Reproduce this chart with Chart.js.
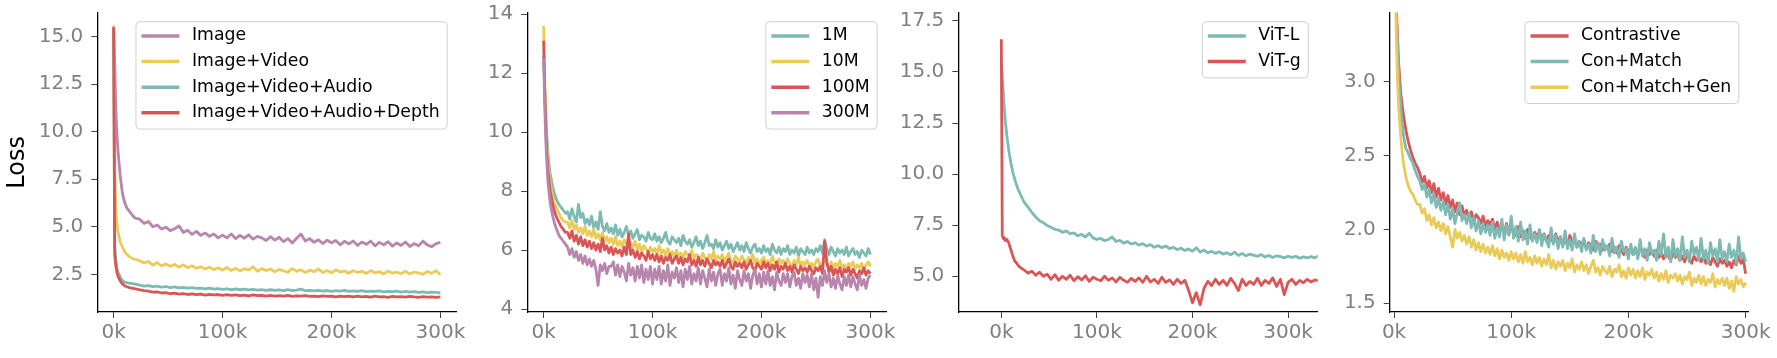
<!DOCTYPE html>
<html><head><meta charset="utf-8">
<script src="https://cdn.jsdelivr.net/npm/chart.js@4.4.1/dist/chart.umd.min.js"></script>
<style>
html,body{margin:0;padding:0;background:#fff;width:1777px;height:358px;overflow:hidden;}
canvas{position:absolute;left:0;top:0;}
</style></head><body>
<canvas id="c1" width="1777" height="358"></canvas>
<canvas id="c2" width="1777" height="358"></canvas>
<canvas id="c3" width="1777" height="358"></canvas>
<canvas id="c4" width="1777" height="358"></canvas>
<script>
// ---------- data (training steps in thousands) ----------
const stepsK = [0,1,2,3,4,6,8,10,12,14,16,18,20,
24,28,32,36,40,44,48,52,56,60,
64,68,72,76,80,84,88,92,96,100,
104,108,112,116,120,124,128,132,136,140,
144,148,152,156,160,164,168,172,176,180,
184,188,192,196,200,204,208,212,216,220,
224,228,232,236,240,244,248,252,256,260,
264,268,272,276,280,284,288,292,296,300];
const stepsK3 = stepsK.concat([304,308,312,316,320,324,328,332]);
const stepsDense = [0,1,2,3,4,6,8,10,12,14,16,18,20,
22,24,26,28,30,32,34,36,38,40,
42,44,46,48,50,52,54,56,58,60,
62,64,66,68,70,72,74,76,78,80,
82,84,86,88,90,92,94,96,98,100,
102,104,106,108,110,112,114,116,118,120,
122,124,126,128,130,132,134,136,138,140,
142,144,146,148,150,152,154,156,158,160,
162,164,166,168,170,172,174,176,178,180,
182,184,186,188,190,192,194,196,198,200,
202,204,206,208,210,212,214,216,218,220,
222,224,226,228,230,232,234,236,238,240,
242,244,246,248,250,252,254,256,258,260,
262,264,266,268,270,272,274,276,278,280,
282,284,286,288,290,292,294,296,298,300];

const xTicks = [0,100,200,300];

// Panel 1: modalities
const p1Names = ['Image','Image+Video','Image+Video+Audio','Image+Video+Audio+Depth'];
const p1Image = [15.5,13.5,11.2,9.9,9.0,7.7,6.8,6.3,6.0,5.85,5.7,5.55,5.45,
5.40,5.18,5.28,5.00,5.10,4.88,4.98,4.80,4.90,5.05,
4.70,4.82,4.60,4.76,4.55,4.68,4.50,4.62,4.42,4.56,
4.42,4.62,4.38,4.55,4.40,4.58,4.35,4.50,4.42,4.28,
4.48,4.30,4.45,4.22,4.38,4.15,4.40,4.62,4.25,4.38,
4.18,4.32,4.12,4.30,4.16,4.28,4.05,4.24,4.10,4.26,
4.02,4.20,4.08,4.25,4.00,4.18,4.05,4.22,3.98,4.15,
4.02,4.20,3.96,4.12,4.00,4.25,4.05,3.95,4.12,4.18];
const p1Video = [15.6,8.0,6.0,5.2,4.75,4.2,3.95,3.7,3.55,3.45,3.38,3.32,3.28,
3.22,3.10,3.18,2.98,3.12,2.95,3.05,2.92,3.02,2.88,
3.00,2.85,2.95,2.82,2.90,2.78,2.88,2.75,2.85,2.72,
2.86,2.70,2.82,2.68,2.80,2.72,2.90,2.66,2.80,2.70,
2.78,2.64,2.76,2.68,2.62,2.80,2.66,2.74,2.60,2.72,
2.64,2.78,2.60,2.70,2.58,2.74,2.62,2.68,2.56,2.70,
2.60,2.66,2.55,2.70,2.58,2.64,2.52,2.68,2.56,2.62,
2.54,2.66,2.52,2.62,2.58,2.50,2.66,2.55,2.70,2.48];
const p1Audio = [15.5,4.0,3.3,2.85,2.6,2.35,2.18,2.1,2.06,2.04,2.02,2.0,1.98,
1.93,1.88,1.91,1.85,1.88,1.83,1.86,1.80,1.84,1.79,
1.82,1.77,1.80,1.76,1.78,1.73,1.77,1.72,1.75,1.71,
1.74,1.70,1.73,1.69,1.72,1.68,1.71,1.67,1.70,1.66,
1.69,1.66,1.68,1.64,1.70,1.65,1.67,1.72,1.64,1.66,
1.63,1.66,1.62,1.65,1.61,1.64,1.62,1.66,1.60,1.63,
1.61,1.64,1.59,1.62,1.60,1.63,1.58,1.61,1.59,1.62,
1.57,1.60,1.56,1.59,1.55,1.58,1.54,1.57,1.55,1.53];
const p1Depth = [15.5,3.5,2.95,2.6,2.4,2.15,2.0,1.9,1.85,1.81,1.78,1.76,1.74,
1.69,1.64,1.62,1.57,1.58,1.52,1.54,1.48,1.51,1.46,
1.49,1.44,1.47,1.43,1.46,1.41,1.45,1.42,1.44,1.40,
1.43,1.39,1.42,1.38,1.41,1.37,1.42,1.38,1.40,1.36,
1.39,1.36,1.38,1.35,1.39,1.34,1.37,1.35,1.38,1.34,
1.36,1.33,1.37,1.34,1.36,1.32,1.35,1.33,1.36,1.31,
1.35,1.32,1.34,1.30,1.35,1.32,1.33,1.29,1.34,1.31,
1.33,1.30,1.34,1.31,1.29,1.33,1.30,1.32,1.29,1.31];
const p1YTicks = [2.5,5,7.5,10,12.5,15];

// Panel 2: data size (dense steps)
const p2Names = ['1M','10M','100M','300M'];
const p2M1 = [12.6,11.5,10.6,9.8,9.2,8.6,8.2,7.9,7.7,7.55,7.45,7.35,7.25,
7.30,7.05,7.40,7.15,6.95,7.55,7.10,7.25,6.90,7.05,
6.85,7.15,6.75,6.95,6.70,7.30,6.80,6.65,6.90,6.60,
6.75,6.55,6.85,6.50,6.70,6.45,6.60,6.80,6.50,6.65,
6.40,6.55,6.70,6.35,6.50,6.45,6.30,6.60,6.40,6.35,
6.55,6.30,6.45,6.25,6.40,6.60,6.30,6.20,6.45,6.35,
6.25,6.40,6.15,6.50,6.30,6.20,6.35,6.10,6.25,6.45,
6.15,6.30,6.05,6.25,6.50,6.15,6.20,6.05,6.35,6.10,
6.25,6.00,6.15,6.30,6.05,6.20,5.95,6.10,6.25,6.00,
6.15,5.95,6.25,6.05,5.90,6.10,6.20,5.95,6.05,5.90,
6.15,5.95,6.05,5.85,6.20,6.00,5.90,6.10,5.85,6.05,
5.95,6.15,5.85,6.00,5.90,6.10,5.80,6.05,5.95,5.85,
6.10,5.90,6.00,5.85,6.05,5.95,6.15,5.90,6.35,6.05,
5.85,6.10,5.95,5.80,6.05,5.90,6.00,5.85,6.10,5.80,
5.95,6.05,5.85,5.95,5.75,6.00,5.90,5.80,6.05,5.85];
const p2M10 = [13.6,11.8,10.5,9.6,9.0,8.3,7.9,7.6,7.4,7.25,7.1,7.0,6.95,
6.95,6.75,7.00,6.70,6.85,6.60,6.75,6.55,6.80,6.50,
6.65,6.45,6.70,6.40,6.55,6.35,6.60,6.30,6.45,6.25,
6.40,6.20,6.45,6.15,6.30,6.10,6.35,6.20,6.05,6.25,
6.10,6.30,6.00,6.20,5.95,6.15,6.05,5.90,6.10,5.95,
6.05,5.85,6.15,5.90,6.00,5.80,6.05,5.85,5.95,5.75,
6.00,5.80,5.90,5.70,5.95,5.85,5.75,6.00,5.70,5.85,
5.80,5.65,5.90,5.75,5.60,5.85,5.70,5.95,5.65,5.80,
5.70,5.85,5.60,5.75,5.90,5.65,5.55,5.80,5.70,5.60,
5.80,5.65,5.55,5.75,5.60,5.85,5.55,5.70,5.50,5.65,
5.75,5.55,5.65,5.50,5.80,5.60,5.45,5.70,5.55,5.65,
5.50,5.70,5.55,5.45,5.65,5.50,5.75,5.45,5.60,5.50,
5.65,5.45,5.55,5.40,5.60,5.70,5.45,5.55,5.65,5.50,
5.40,5.60,5.35,5.55,5.45,5.65,5.40,5.50,5.35,5.55,
5.45,5.60,5.35,5.50,5.40,5.55,5.30,5.50,5.60,5.45];
const p2M100 = [13.1,11.4,10.2,9.3,8.7,8.0,7.6,7.3,7.1,6.95,6.8,6.7,6.6,
6.60,6.40,6.65,6.30,6.50,6.20,6.45,6.15,6.35,6.10,
6.30,6.05,6.25,6.00,6.20,5.95,6.40,6.00,6.15,5.90,
6.10,5.85,6.05,5.90,6.00,5.80,6.10,5.85,6.55,5.85,
6.00,5.75,5.95,5.70,5.90,5.80,5.65,5.95,5.70,5.85,
5.65,5.85,5.60,5.80,5.55,5.75,5.65,5.85,5.55,5.70,
5.80,5.55,5.75,5.50,5.70,5.60,5.85,5.50,5.65,5.45,
5.75,5.50,5.65,5.45,5.70,5.55,5.40,5.65,5.50,5.60,
5.45,5.65,5.40,5.55,5.70,5.45,5.35,5.60,5.45,5.55,
5.40,5.60,5.35,5.50,5.65,5.40,5.30,5.55,5.45,5.35,
5.60,5.40,5.55,5.30,5.50,5.35,5.60,5.25,5.45,5.35,
5.55,5.30,5.45,5.25,5.50,5.35,5.20,5.45,5.30,5.40,
5.25,5.45,5.30,5.20,5.40,5.30,5.45,5.20,6.30,5.60,
5.25,5.45,5.15,5.35,5.20,5.40,5.10,5.35,5.25,5.40,
5.15,5.35,5.20,5.05,5.30,5.20,5.40,5.15,5.30,5.20];
const p2M300 = [12.5,10.9,9.7,8.9,8.3,7.6,7.2,6.9,6.7,6.5,6.4,6.3,6.2,
6.10,5.85,6.05,5.75,5.95,5.65,5.85,5.55,5.80,5.50,
5.70,5.45,5.65,5.35,4.80,5.50,5.30,5.55,5.20,5.45,
5.45,5.60,5.15,5.50,5.10,5.45,5.25,4.95,5.55,5.15,
5.40,4.95,5.45,5.05,5.50,4.90,5.35,5.00,5.45,4.85,
5.35,5.00,5.45,4.85,5.30,4.95,5.50,4.80,5.25,5.05,
5.40,4.90,5.30,4.75,5.35,5.00,5.45,4.85,5.20,4.95,
5.40,4.85,5.30,5.05,4.75,5.35,4.95,5.25,4.80,5.20,
5.35,4.80,5.20,4.95,5.40,4.85,5.15,4.70,5.30,5.00,
4.80,5.30,4.95,5.20,4.70,5.15,5.35,4.85,5.20,4.75,
5.25,4.85,5.30,4.80,5.10,4.65,5.25,4.95,4.80,5.20,
4.90,5.20,4.75,5.10,5.25,4.80,5.05,4.70,5.20,4.90,
5.15,4.75,5.20,4.65,5.05,4.40,5.10,4.80,5.30,4.90,
5.20,4.75,5.05,4.70,5.15,4.85,4.65,5.10,4.80,5.15,
4.75,5.10,4.85,4.65,5.15,4.80,5.00,4.70,5.05,5.15];
const p2YTicks = [4,6,8,10,12,14];

// Panel 3: model size
const p3Names = ['ViT-L','ViT-g'];
const p3L = [15.5,14.8,14.1,13.3,12.7,11.8,11.1,10.55,10.1,9.75,9.45,9.2,9.0,
8.62,8.38,8.12,7.90,7.72,7.62,7.48,7.40,7.30,7.26,
7.15,7.22,7.08,7.12,6.98,7.05,6.92,7.10,6.88,6.80,
6.85,6.74,6.80,6.92,6.70,6.76,6.62,6.70,6.58,6.64,
6.52,6.60,6.48,6.55,6.42,6.50,6.40,6.48,6.35,6.42,
6.30,6.38,6.26,6.34,6.22,6.40,6.18,6.28,6.15,6.22,
6.12,6.20,6.08,6.15,6.05,6.18,6.02,6.12,6.00,6.08,
6.02,5.98,6.06,5.94,6.02,5.92,6.00,5.96,5.90,5.98,
5.92,5.98,5.88,5.95,5.90,5.96,5.90,6.00];
const p3G = [16.6,7.0,6.85,6.9,6.75,6.8,6.6,6.3,6.0,5.75,5.65,5.5,5.42,
5.30,5.15,5.25,5.05,5.20,5.00,5.10,4.85,5.08,4.80,
5.00,4.85,5.05,4.78,4.98,4.82,5.02,4.75,4.95,4.85,
4.78,5.00,4.80,4.92,4.72,4.95,4.80,4.70,4.90,4.75,
4.92,4.70,5.00,4.72,4.85,4.65,4.95,4.70,4.82,4.60,
4.85,4.65,4.80,4.30,3.70,4.20,3.60,4.40,4.75,4.55,
4.85,4.60,4.80,4.55,4.90,4.65,4.30,4.85,4.55,4.75,
4.60,4.90,4.55,4.80,4.65,4.92,4.50,4.85,4.10,4.70,
4.85,4.60,4.80,4.68,4.85,4.72,4.82,4.78];
const p3YTicks = [5,7.5,10,12.5,15,17.5];

// Panel 4: objectives (dense steps)
const p4Names = ['Contrastive','Con+Match','Con+Match+Gen'];
const p4Con = [4.5,3.9,3.5,3.3,3.12,2.9,2.78,2.68,2.6,2.54,2.49,2.45,2.42,
2.38,2.32,2.36,2.28,2.33,2.25,2.31,2.22,2.28,2.20,
2.25,2.17,2.23,2.15,2.20,2.12,2.18,2.10,2.16,2.09,
2.13,2.07,2.12,2.05,2.10,2.08,2.04,2.09,2.02,2.06,
2.03,2.07,2.00,2.05,1.99,2.03,1.98,2.04,1.97,2.01,
2.00,1.96,2.02,1.95,1.99,1.94,2.00,1.96,1.93,1.98,
1.95,1.99,1.93,1.97,1.92,1.96,1.94,1.91,1.97,1.92,
1.95,1.90,1.94,1.89,1.96,1.91,1.93,1.88,1.92,1.89,
1.93,1.87,1.91,1.89,1.86,1.92,1.88,1.90,1.86,1.89,
1.87,1.90,1.85,1.88,1.84,1.89,1.86,1.83,1.88,1.85,
1.87,1.83,1.86,1.82,1.88,1.84,1.81,1.86,1.83,1.85,
1.82,1.86,1.81,1.84,1.80,1.85,1.82,1.79,1.84,1.81,
1.83,1.79,1.82,1.78,1.84,1.80,1.77,1.82,1.79,1.81,
1.78,1.82,1.77,1.80,1.76,1.81,1.78,1.75,1.80,1.77,
1.79,1.75,1.78,1.74,1.79,1.76,1.82,1.77,1.80,1.70];
const p4Match = [4.4,3.85,3.45,3.22,3.05,2.8,2.64,2.55,2.52,2.48,2.45,2.40,2.36,
2.33,2.27,2.31,2.22,2.27,2.18,2.24,2.15,2.21,2.13,
2.19,2.10,2.17,2.07,2.14,2.04,2.12,2.18,2.06,2.10,
2.04,2.11,2.01,2.08,1.99,2.06,1.97,2.04,1.98,2.03,
1.96,2.05,1.94,2.01,1.95,2.07,1.93,2.03,1.96,2.09,
1.94,2.02,1.92,2.05,1.93,1.99,1.90,2.03,1.92,1.97,
1.91,2.00,1.89,1.97,1.93,1.88,2.01,1.90,1.96,1.87,
1.95,1.88,1.99,1.87,1.93,1.86,1.97,1.88,1.92,1.85,
1.94,1.86,1.90,1.84,1.96,1.85,1.91,1.83,1.93,1.86,
1.89,1.82,1.94,1.84,1.88,1.81,1.92,1.85,1.87,1.80,
1.90,1.83,1.88,1.80,1.93,1.82,1.87,1.79,1.91,1.84,
1.86,1.79,1.92,1.83,1.97,1.81,1.88,1.78,1.93,1.82,
1.87,1.79,1.95,1.81,1.86,1.78,1.92,1.83,1.88,1.79,
1.94,1.80,1.86,1.77,1.91,1.82,1.87,1.78,1.93,1.80,
1.85,1.78,1.90,1.81,1.86,1.77,1.95,1.80,1.84,1.78];
const p4Gen = [4.3,3.7,3.3,3.0,2.82,2.6,2.45,2.36,2.3,2.26,2.24,2.2,2.17,
2.17,2.11,2.14,2.06,2.10,2.03,2.08,2.01,2.05,1.99,
2.04,1.97,2.02,1.95,1.88,2.00,1.94,1.98,1.92,1.96,
1.90,1.95,1.88,1.93,1.86,1.91,1.85,1.90,1.84,1.88,
1.83,1.89,1.82,1.87,1.80,1.86,1.81,1.84,1.79,1.85,
1.80,1.84,1.78,1.83,1.77,1.85,1.78,1.81,1.76,1.82,
1.77,1.81,1.75,1.80,1.76,1.83,1.74,1.79,1.73,1.78,
1.75,1.79,1.72,1.77,1.74,1.80,1.71,1.76,1.73,1.78,
1.72,1.76,1.70,1.75,1.79,1.71,1.74,1.69,1.75,1.72,
1.70,1.75,1.68,1.73,1.71,1.76,1.68,1.72,1.67,1.74,
1.69,1.73,1.67,1.72,1.68,1.74,1.66,1.71,1.69,1.73,
1.67,1.71,1.65,1.70,1.66,1.72,1.64,1.69,1.67,1.70,
1.65,1.69,1.63,1.68,1.66,1.71,1.62,1.67,1.64,1.69,
1.63,1.68,1.62,1.66,1.64,1.70,1.61,1.66,1.63,1.67,
1.62,1.67,1.60,1.65,1.58,1.68,1.63,1.66,1.61,1.64];
const p4YTicks = [1.5,2,2.5,3];

// ---------- styling ----------
const PURPLE = '#B886AC', YELLOW = '#EACB58', TEAL = '#7DBAB3', RED = '#DA5656';
const FONT = 'DejaVu Sans';
Chart.defaults.font.family = FONT;
const YW = 97, XH = 46, TOP = 12.7, W = 1777;
const LEG_FONT = 17.3;

const legendPlugin = {
  id: 'mplLegend',
  afterDatasetsDraw(chart, args, opts) {
    const items = opts.items; if (!items) return;
    const ctx = chart.ctx, ca = chart.chartArea;
    ctx.save();
    ctx.font = LEG_FONT + 'px "' + FONT + '"';
    const tw = Math.max(...items.map(it => ctx.measureText(it.label).width));
    const w = 5.5 + 38 + 12.5 + tw + 7.5;
    const h = 14.3 + 25.6 * (items.length - 1) + 16.3;
    const right = ca.right - 9.5, top = ca.top + 9, left = right - w;
    ctx.beginPath();
    ctx.roundRect(left, top, w, h, 4);
    ctx.fillStyle = 'rgba(255,255,255,0.8)'; ctx.fill();
    ctx.strokeStyle = '#d0d0d0'; ctx.lineWidth = 1; ctx.stroke();
    items.forEach((it, i) => {
      const y = top + 14.3 + 25.6 * i;
      ctx.beginPath(); ctx.moveTo(left + 5.5, y); ctx.lineTo(left + 43.5, y);
      ctx.strokeStyle = it.color; ctx.lineWidth = 3.5; ctx.lineCap = 'butt'; ctx.stroke();
      ctx.fillStyle = '#000'; ctx.textBaseline = 'middle'; ctx.textAlign = 'left';
      ctx.fillText(it.label, left + 56, y);
    });
    ctx.restore();
  }
};

function makePanel(id, p) {
  const n = p.series.length;
  const datasets = p.series.map((s, i) => ({
    label: s.name,
    data: p.steps.map((x, j) => ({x: x, y: s.values[j]})),
    borderColor: s.color,
    borderWidth: 2.8,
    pointRadius: 0,
    tension: 0,
    borderJoinStyle: 'round',
    clip: 0,
    order: n - i
  }));
  new Chart(document.getElementById(id), {
    type: 'line',
    data: {datasets},
    plugins: [legendPlugin],
    options: {
      responsive: false, animation: false, devicePixelRatio: 1, events: [],
      layout: {padding: {left: p.axisLeft - YW, right: W - p.axisRight, top: TOP, bottom: 0}},
      plugins: {
        legend: {display: false}, tooltip: {enabled: false},
        mplLegend: {items: p.series.map(s => ({label: s.name, color: s.color}))}
      },
      scales: {
        x: {
          type: 'linear', min: p.xMin, max: p.xMax,
          afterBuildTicks: sc => { sc.ticks = xTicks.map(v => ({value: v})); },
          afterFit: sc => { sc.height = XH; sc.paddingLeft = 0; sc.paddingRight = 0; },
          ticks: {color: '#808080', font: {size: 20}, padding: 3, maxRotation: 0, autoSkip: false,
                  callback: v => v + 'k'},
          grid: {display: true, drawOnChartArea: false, drawTicks: true, tickLength: 6, color: '#444', lineWidth: 1},
          border: {display: true, color: '#000', width: 1.3}
        },
        y: {
          type: 'linear', min: p.yMin, max: p.yMax,
          afterBuildTicks: sc => { sc.ticks = p.yTicks.map(v => ({value: v})); },
          afterFit: sc => { sc.width = YW; sc.paddingTop = 0; sc.paddingBottom = 0; },
          ticks: {color: '#808080', font: {size: 20}, padding: 8, autoSkip: false,
                  callback: v => v.toFixed(p.dec)},
          grid: {display: true, drawOnChartArea: false, drawTicks: true, tickLength: 6, color: '#444', lineWidth: 1},
          border: {display: true, color: '#000', width: 1.3},
          title: {display: !!p.yTitle, text: p.yTitle || '', color: '#000', font: {size: 24}, padding: {top: 3, bottom: 0}}
        }
      }
    }
  });
}

makePanel('c1', {axisLeft: 97.3, axisRight: 456.7, xMin: -15, xMax: 315, yMin: 0.52, yMax: 16.26,
  yTicks: p1YTicks, dec: 1, yTitle: 'Loss', steps: stepsK,
  series: [{name: p1Names[0], values: p1Image, color: PURPLE},
           {name: p1Names[1], values: p1Video, color: YELLOW},
           {name: p1Names[2], values: p1Audio, color: TEAL},
           {name: p1Names[3], values: p1Depth, color: RED}]});
makePanel('c2', {axisLeft: 527.3, axisRight: 886.7, xMin: -15, xMax: 315, yMin: 3.9, yMax: 14.05,
  yTicks: p2YTicks, dec: 0, steps: stepsDense,
  series: [{name: p2Names[0], values: p2M1, color: TEAL},
           {name: p2Names[1], values: p2M10, color: YELLOW},
           {name: p2Names[2], values: p2M100, color: RED},
           {name: p2Names[3], values: p2M300, color: PURPLE}]});
makePanel('c3', {axisLeft: 958.3, axisRight: 1317.7, xMin: -45, xMax: 331, yMin: 3.25, yMax: 17.9,
  yTicks: p3YTicks, dec: 1, steps: stepsK3,
  series: [{name: p3Names[0], values: p3L, color: TEAL},
           {name: p3Names[1], values: p3G, color: RED}]});
makePanel('c4', {axisLeft: 1389.7, axisRight: 1748.3, xMin: -3.7, xMax: 302.3, yMin: 1.44, yMax: 3.47,
  yTicks: p4YTicks, dec: 1, steps: stepsDense,
  series: [{name: p4Names[0], values: p4Con, color: RED},
           {name: p4Names[1], values: p4Match, color: TEAL},
           {name: p4Names[2], values: p4Gen, color: YELLOW}]});
</script>
</body></html>
